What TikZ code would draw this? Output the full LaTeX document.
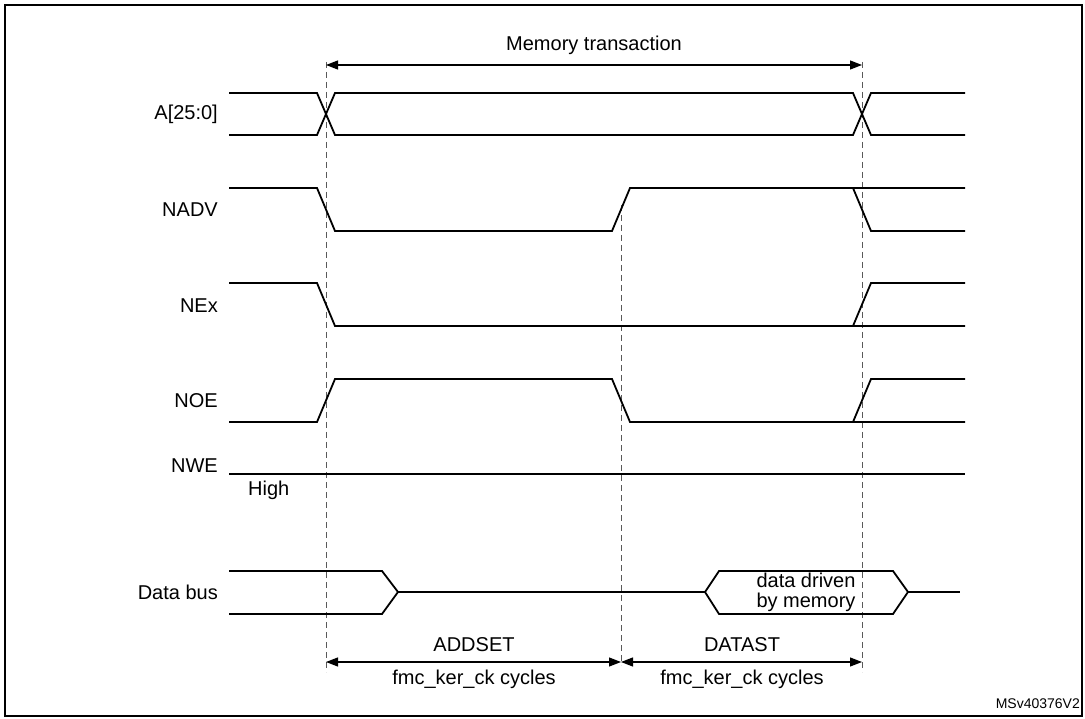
\documentclass[tikz,border=0pt]{standalone}
\usepackage{fontspec}
\setmainfont{Liberation Sans}
\usetikzlibrary{arrows.meta}
\begin{document}
\begin{tikzpicture}[x=1pt,y=-1pt,
  sig/.style={line width=1.8pt},
  guide/.style={gray!70!black,line width=0.8pt,dash pattern=on 6pt off 4pt},
  lbl/.style={anchor=east,inner sep=0pt,font=\fontsize{20}{22}\selectfont},
  txt/.style={inner sep=0pt,font=\fontsize{20}{22}\selectfont},
  dim/.style={line width=1.2pt,{Triangle[length=12pt,width=9pt]}-{Triangle[length=12pt,width=9pt]}}]
\useasboundingbox (0,0) rectangle (1085,719);
\draw[line width=1.8pt] (5,5) rectangle (1082,716);
% dashed guides
\draw[guide] (326,62) -- (326,672);
\draw[guide] (621,205) -- (621,665);
\draw[guide] (862,62) -- (862,672);
% memory transaction
\coordinate (m1) at (326,65); \coordinate (m2) at (862,65);
\draw[dim] (m1) -- (m2);
\node[txt] (mt) at (594,45) {Memory transaction};
% labels
\node[lbl] (la) at (218,114) {A[25:0]};
\node[lbl] (lb) at (218,210) {NADV};
\node[lbl] (lc) at (218,306) {NEx};
\node[lbl] (ld) at (218,401) {NOE};
\node[lbl] (le) at (218,466) {NWE};
\node[txt,anchor=west] (lh) at (248,490) {High};
\node[lbl] (lf) at (218,592) {Data bus};
% A
\draw[sig] (229,93) -- (317,93) -- (335,135) -- (853,135) -- (871,93) -- (965,93);
\draw[sig] (229,135) -- (317,135) -- (335,93) -- (853,93) -- (871,135) -- (965,135);
% NADV
\draw[sig] (229,188) -- (317,188) -- (335,231) -- (612,231) -- (630,188) -- (965,188);
\draw[sig] (853,188) -- (871,231) -- (965,231);
% NEx
\draw[sig] (229,283) -- (317,283) -- (335,326) -- (965,326);
\draw[sig] (853,326) -- (871,283) -- (965,283);
% NOE
\draw[sig] (229,422) -- (317,422) -- (335,379) -- (612,379) -- (630,422) -- (965,422);
\draw[sig] (853,422) -- (871,379) -- (965,379);
% NWE
\draw[sig] (229,474) -- (965,474);
% Data bus
\draw[sig] (229,571) -- (382,571) -- (398,592) -- (382,614) -- (229,614);
\draw[sig] (398,592) -- (705,592) -- (719,571) -- (893,571) -- (908,592) -- (893,614) -- (719,614) -- (705,592);
\draw[sig] (908,592) -- (960,592);
\node[txt,align=center,font=\fontsize{20}{20}\selectfont] (dd) at (806,592) {data driven\\by memory};
% bottom arrows
\coordinate (b1) at (326,662); \coordinate (b2) at (621,662); \coordinate (b3) at (862,662);
\draw[dim] (b1) -- (b2);
\draw[dim] (b2) -- (b3);
\node[txt] (ad) at (474,645) {ADDSET};
\node[txt] (c1) at (474,679) {fmc\_ker\_ck cycles};
\node[txt] (da) at (742,645) {DATAST};
\node[txt] (c2) at (742,679) {fmc\_ker\_ck cycles};
\node[anchor=east,inner sep=0pt,font=\fontsize{14}{16}\selectfont] (ms) at (1080,704) {MSv40376V2};
\end{tikzpicture}
\end{document}
